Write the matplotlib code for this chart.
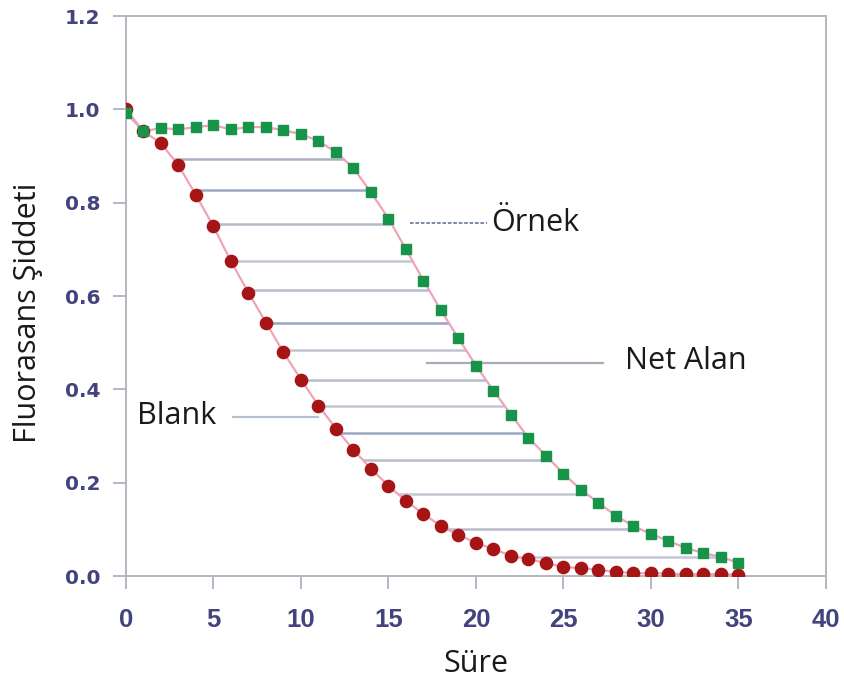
import numpy as np
import matplotlib
matplotlib.use("Agg")
import matplotlib.pyplot as plt

# ---- data ----
time = list(range(0, 36))
blank = [1.000, 0.953, 0.927, 0.880, 0.816, 0.749, 0.674, 0.607, 0.543, 0.479,
         0.421, 0.365, 0.316, 0.270, 0.230, 0.193, 0.161, 0.133, 0.107, 0.088,
         0.071, 0.058, 0.043, 0.036, 0.028, 0.019, 0.017, 0.013, 0.009, 0.006,
         0.006, 0.005, 0.004, 0.004, 0.004, 0.003]
sample = [0.992, 0.953, 0.960, 0.957, 0.962, 0.966, 0.957, 0.962, 0.962, 0.955,
          0.947, 0.932, 0.908, 0.874, 0.822, 0.766, 0.700, 0.633, 0.569, 0.509,
          0.451, 0.397, 0.346, 0.296, 0.258, 0.219, 0.185, 0.157, 0.129, 0.107,
          0.090, 0.075, 0.060, 0.049, 0.041, 0.028]
net_levels = [0.893, 0.827, 0.754, 0.676, 0.612, 0.543, 0.485, 0.421, 0.365,
              0.307, 0.249, 0.176, 0.101, 0.041]
net_colors = ['#a8b0c4', '#9ea8c4', '#b4bac8', '#c4c8d2', '#b8bccc', '#98a4c8',
              '#c0c4d0', '#b8bccc', '#c4c8d2', '#9ca6c4', '#b8bccc', '#c4c8d2',
              '#b8bccc', '#c4c8d2']
x_ticks = [0, 5, 10, 15, 20, 25, 30, 35, 40]
y_ticks = [0.0, 0.2, 0.4, 0.6, 0.8, 1.0, 1.2]

fig = plt.figure(figsize=(8.45, 6.84), dpi=100)
ax = fig.add_axes([126/845, 1-576/684, 700/845, 560/684])

t = np.array(time, dtype=float)
b = np.array(blank)
s = np.array(sample)

# Net area horizontal lines: from blank curve to sample curve at each level
for lvl, col in zip(net_levels, net_colors):
    xb = np.interp(lvl, b[::-1], t[::-1])
    xs = np.interp(lvl, s[5:][::-1], t[5:][::-1])
    ax.plot([xb, xs], [lvl, lvl], color=col, lw=1.8, zorder=1, solid_capstyle='butt')

# curves
ax.plot(t, b, color='#f2a2b8', lw=1.6, zorder=2)
ax.plot(t, s, color='#f2a2b8', lw=1.6, zorder=2)
ax.plot(t, b, linestyle='none', marker='o', ms=8.8, color='#a51515',
        markeredgecolor='#a51515', zorder=3)
ax.plot(t, s, linestyle='none', marker='s', ms=7.6, color='#17934a',
        markeredgecolor='#17934a', zorder=4)

# annotations
txt_font = dict(family=['Open Sans', 'DejaVu Sans'], size=22, color='#1a1a1a')
ax.plot([16.24, 20.64], [0.756, 0.756], color='#7080a8', lw=1.3, ls=(0, (2, 1)), zorder=1)
ax.text(20.85, 0.756, 'Örnek', ha='left', va='center', **txt_font)
ax.plot([17.2, 27.27], [0.457, 0.457], color='#a8acb8', lw=1.6, zorder=1)
ax.text(28.5, 0.460, 'Net Alan', ha='left', va='center', **txt_font)
ax.plot([6.12, 10.98], [0.341, 0.341], color='#b4c0cc', lw=1.6, zorder=1)
ax.text(0.62, 0.343, 'Blank', ha='left', va='center', **txt_font)

# axes styling
ax.set_xlim(0, 40)
ax.set_ylim(0, 1.2)
ax.set_xticks(x_ticks)
ax.set_yticks(y_ticks)
ax.set_yticklabels([f'{v:.1f}' for v in y_ticks])
for sp in ax.spines.values():
    sp.set_color('#b4b6c0')
    sp.set_linewidth(1.4)
ax.tick_params(axis='both', direction='out', length=9.5, width=1.2, color='#a8aab8',
               labelcolor='#43437e')
ax.tick_params(axis='x', pad=13.5)
ax.tick_params(axis='y', pad=9)
for lab in ax.get_xticklabels():
    lab.set_family(['Liberation Sans', 'DejaVu Sans'])
    lab.set_fontweight('bold')
    lab.set_fontsize(18.5)
for lab in ax.get_yticklabels():
    lab.set_family(['DejaVu Sans'])
    lab.set_fontweight('bold')
    lab.set_fontsize(14.5)

ax.set_xlabel('Süre', family=['Open Sans', 'DejaVu Sans'], size=22, color='#1a1a1a',
              va='center')
ax.set_ylabel('Fluorasans Şiddeti', family=['Open Sans', 'DejaVu Sans'], size=22,
              color='#1a1a1a', va='center', ha='center')
ax.xaxis.set_label_coords(0.5, -0.158)
ax.yaxis.set_label_coords(-0.140, 0.47)

fig.savefig('out.png', dpi=100, facecolor='white')
